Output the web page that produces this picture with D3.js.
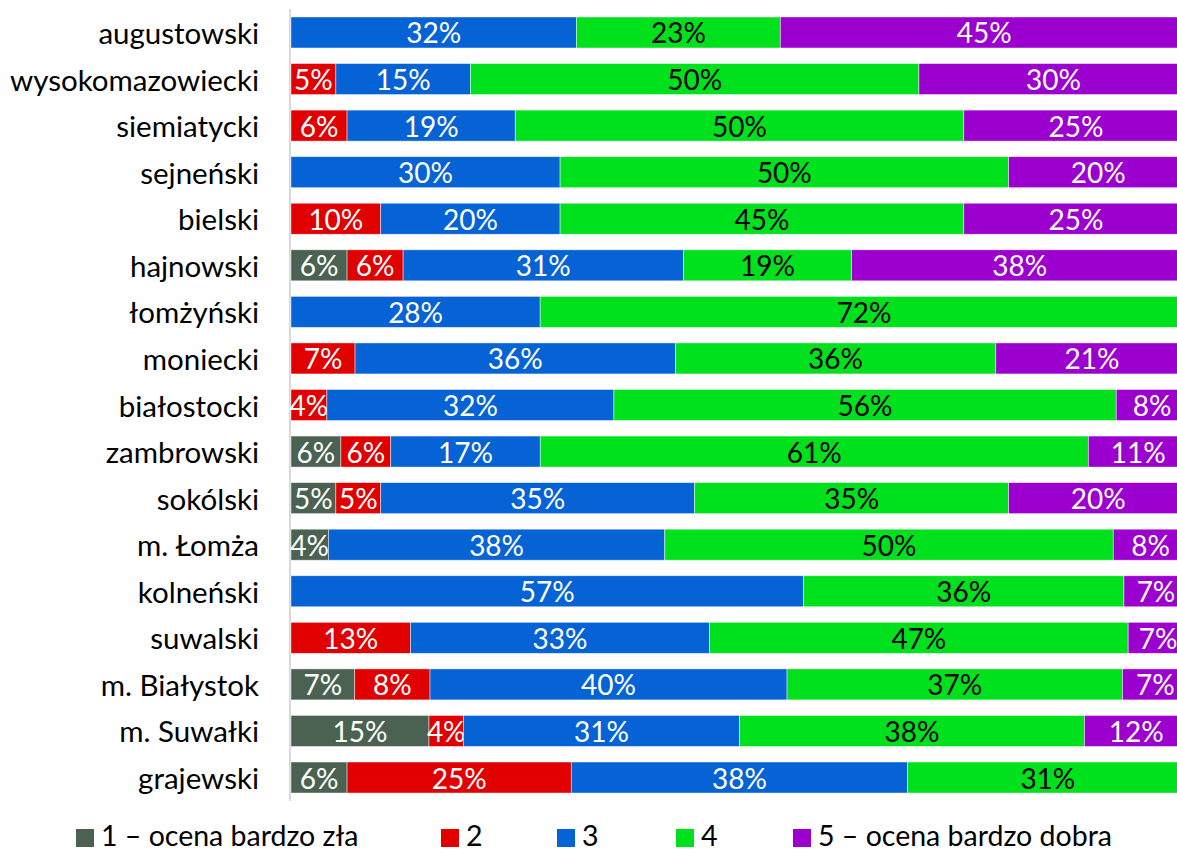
<!DOCTYPE html>
<html>
<head>
<meta charset="utf-8">
<script src="https://cdn.jsdelivr.net/npm/d3@7"></script>
<style>
    body { margin: 0; background: #fff; }
    svg { display: block; font-family: Lato, "Open Sans", sans-serif; }
</style>
</head>
<body>
<svg id="chart" width="1177" height="853"></svg>
<script>
const categories = [
    "augustowski", "wysokomazowiecki", "siemiatycki", "sejneński", "bielski",
    "hajnowski", "łomżyński", "moniecki", "białostocki", "zambrowski",
    "sokólski", "m. Łomża", "kolneński", "suwalski", "m. Białystok",
    "m. Suwałki", "grajewski"
];

// share of answers per grade, same order as categories (percent)
const grade1 = [0, 0, 0, 0, 0, 6.25, 0, 0, 0, 5.56, 5, 4.17, 0, 0, 7.1, 15.38, 6.25];
const grade2 = [0, 5, 6.25, 0, 10, 6.25, 0, 7.14, 4, 5.56, 5, 0, 0, 13.33, 8.4, 3.85, 25];
const grade3 = [31.82, 15, 18.75, 30, 20, 31.25, 27.78, 35.71, 32, 16.67, 35, 37.5, 57.14, 33.33, 39.8, 30.77, 37.5];
const grade4 = [22.73, 50, 50, 50, 45, 18.75, 72.22, 35.71, 56, 61.11, 35, 50, 35.71, 46.67, 37.4, 38.46, 31.25];
const grade5 = [45.45, 30, 25, 20, 25, 37.5, 0, 21.43, 8, 11.11, 20, 8.33, 7.14, 6.67, 7.3, 11.54, 0];

const seriesNames = ["1 – ocena bardzo zła", "2", "3", "4", "5 – ocena bardzo dobra"];
const seriesColors = ["#4b6152", "#e00000", "#0563d6", "#00e11e", "#9c00cf"];
const labelColors = ["#fff", "#fff", "#fff", "#000", "#fff"];

const svg = d3.select("#chart");

const rows = categories.map(function(name, i) {
    return { name: name, s0: grade1[i], s1: grade2[i], s2: grade3[i], s3: grade4[i], s4: grade5[i] };
});
const keys = ["s0", "s1", "s2", "s3", "s4"];

const stacked = d3.stack()
    .keys(keys)
    .offset(d3.stackOffsetExpand)(rows);

// the plot runs a little past the right edge of the picture (it was cropped)
const x = d3.scaleLinear().domain([0, 1]).range([291, 1188]);
const y = d3.scaleBand()
    .domain(categories)
    .range([9.2, 800.8])
    .paddingInner(0.334)
    .paddingOuter(0.167);

// category axis line
svg.append("line")
    .attr("x1", 290).attr("x2", 290)
    .attr("y1", 9).attr("y2", 801)
    .attr("stroke", "#d9d9d9")
    .attr("stroke-width", 2);

const layers = svg.selectAll("g.layer")
    .data(stacked)
    .join("g")
    .attr("class", "layer");

layers.selectAll("rect")
    .data(function(layer) {
        return layer.map(function(d) { return { d: d, idx: layer.index }; });
    })
    .join("rect")
    .attr("x", function(o) { return x(o.d[0]); })
    .attr("y", function(o) { return y(o.d.data.name); })
    .attr("width", function(o) { return x(o.d[1]) - x(o.d[0]); })
    .attr("height", y.bandwidth())
    .attr("fill", function(o) { return seriesColors[o.idx]; })
    .attr("stroke", "#fff")
    .attr("stroke-opacity", 0.6)
    .attr("stroke-width", 0.75);

layers.selectAll("text")
    .data(function(layer) {
        return layer
            .filter(function(d) { return d.data[layer.key] > 0; })
            .map(function(d) { return { d: d, idx: layer.index, v: d.data[layer.key] }; });
    })
    .join("text")
    .attr("x", function(o) { return (x(o.d[0]) + x(o.d[1])) / 2; })
    .attr("y", function(o) { return y(o.d.data.name) + y.bandwidth() / 2; })
    .attr("text-anchor", "middle")
    .attr("dominant-baseline", "central")
    .attr("font-size", 28)
    .attr("fill", function(o) { return labelColors[o.idx]; })
    .text(function(o) { return Math.round(o.v) + "%"; });

// category labels
svg.append("g")
    .selectAll("text")
    .data(categories)
    .join("text")
    .attr("x", 259)
    .attr("y", function(d) { return y(d) + y.bandwidth() / 2; })
    .attr("text-anchor", "end")
    .attr("dominant-baseline", "central")
    .attr("font-size", 29.5)
    .attr("fill", "#000")
    .text(function(d) { return d; });

// legend (nudged up a little so the text box stays inside the picture)
const legendX = [76, 441, 557, 676, 793];
const legend = svg.append("g")
    .selectAll("g")
    .data(seriesNames)
    .join("g")
    .attr("transform", function(d, i) { return "translate(" + legendX[i] + ", 829)"; });

legend.append("rect")
    .attr("width", 18)
    .attr("height", 18)
    .attr("fill", function(d, i) { return seriesColors[i]; });

legend.append("text")
    .attr("x", 25)
    .attr("y", 17)
    .attr("font-size", 28.5)
    .attr("fill", "#000")
    .text(function(d) { return d; });
</script>
</body>
</html>
